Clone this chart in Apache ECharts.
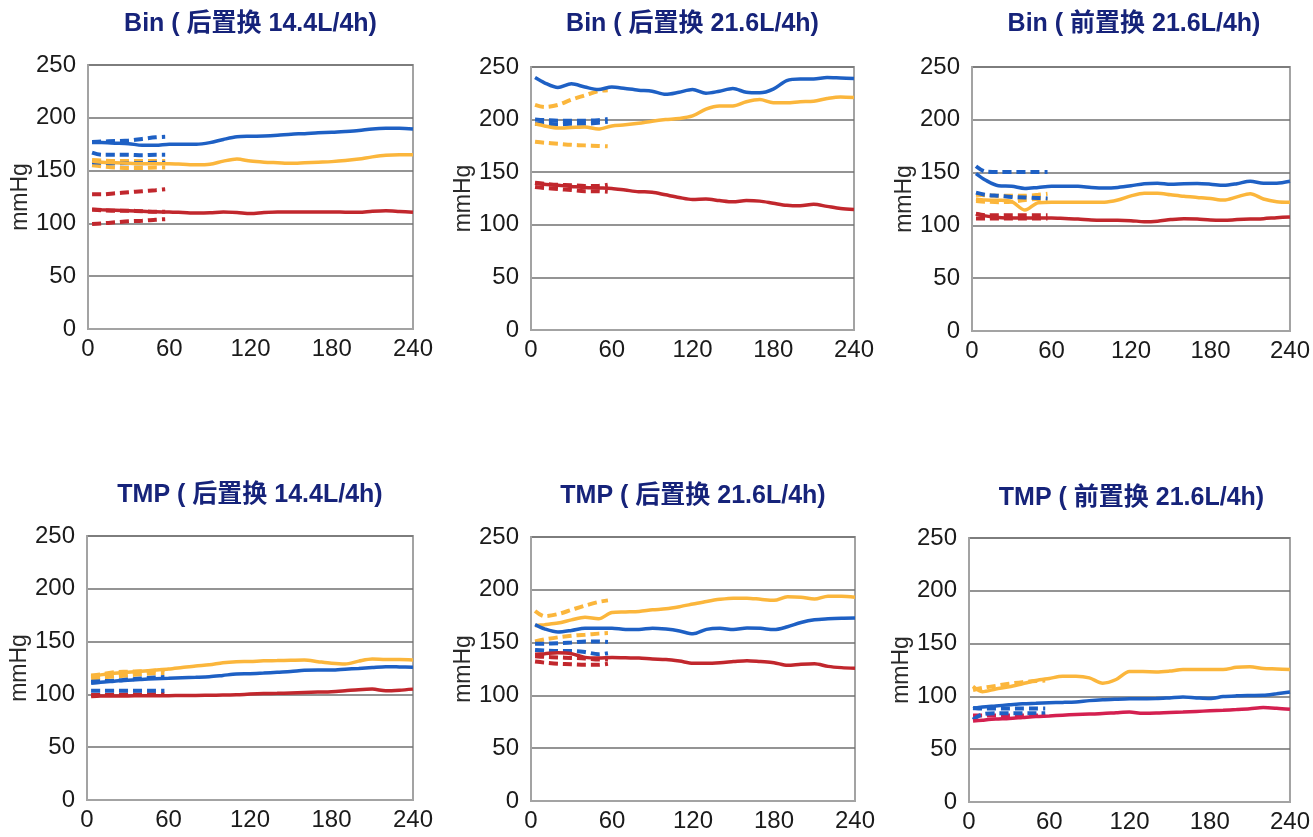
<!DOCTYPE html>
<html><head><meta charset="utf-8">
<script src="https://cdn.jsdelivr.net/npm/echarts@6/dist/echarts.min.js"></script>
<style>html,body{margin:0;padding:0;background:#fff}#c{width:1313px;height:837px}</style>
</head><body><div id="c"></div>
<script>
// ---- data ----
const titles = ['Bin ( 后置换 14.4L/4h)', 'Bin ( 后置换 21.6L/4h)', 'Bin ( 前置换 21.6L/4h)',
                'TMP ( 后置换 14.4L/4h)', 'TMP ( 后置换 21.6L/4h)', 'TMP ( 前置换 21.6L/4h)'];
const yTicks = [0, 50, 100, 150, 200, 250];
const xTicks = [0, 60, 120, 180, 240];
const tSolid = [3,10,20,30,40,50,60,70,80,90,100,110,120,130,140,150,160,170,180,190,200,210,220,230,240];
const tDash = [3,10,20,30,40,50,57];

// Panel 1
const p1Blue   = [176.5,176.5,176,175.5,174,174,175,175,175,176.5,179.5,182,182.5,182.8,183.5,184.5,185,185.8,186.2,187,188,189.5,190,190,189.5];
const p1Orange = [159,158,157.5,157,156.5,156.5,156.5,156,155.5,156,159,161,159,158,157.5,157,157.5,158,158.5,159.5,161,163,164.5,165,165];
const p1Red    = [113.5,113,112.5,112,111.5,111,110.8,110.3,109.8,110,110.8,110.3,109.4,110.3,110.8,110.8,110.8,110.8,110.8,110.6,110.5,111.5,112,111.3,110.5];
const p1BlueD  = [[177,177.5,178,178.5,180,181.5,182],[167,165,165,165,164.5,165,165],[158,157.5,157,157,157,157.5,157.5]];
const p1OrangeD= [[160,159.5,159,159,159,159,159],[155,154,153,152.5,152.5,153,153]];
const p1RedD   = [[127.5,127.5,128.5,129.5,130.5,131.5,132.3],[113,112.5,112,112,111.5,111,111],[99.5,100,101,102,102.5,103.5,104]];

// Panel 2
const p2Blue   = [240,235,230.5,234,231,228.5,231,229.5,228,227,224,226,228.5,225,227,229.5,226,225.5,229,237,238.5,238.5,240,239.5,239];
const p2Orange = [196,194,192,192.5,193,191,194,195,196.5,198.5,200,201,203.5,210,213,213,217,219,216,216,217,217.5,220,221.5,221];
const p2Red    = [139.5,138.5,137.5,136.5,135.5,135,134.5,133,131.5,131,128.5,126,124,124.5,123,121.8,123,122.5,120.5,118.5,118,119.5,117.5,115.5,114.6];
const p2BlueD  = [[200,199.5,199,199,199,199.5,200.5],[196,196,195.5,196,196,197,198]];
const p2OrangeD= [[214,212,214,219,223,227,228],[179,178,177,176,175.5,175,174.7]];
const p2RedD   = [[140,139,138,137.5,137,137,138],[136,135,134,133,132,132,131.5]];

// Panel 3
const p3Blue   = [149,143,137.5,137,135,136,137,137,137,136,135.5,136,137.5,139.5,140,139,139.5,139.6,139,138,139.5,141.8,140,140,141.8];
const p3Orange = [125,124,123.8,122.5,114.5,121.5,122,122,122,122,122,124,128,130.5,130.5,129,127.5,126.5,125.5,124,127,130,125,122.5,122];
const p3Red    = [111,109,107.5,107,107,107,107,106.5,106,105,104.8,104.8,104.5,103.5,104,105.5,106.4,106,105,104.8,105.5,106,106.4,107.3,108];
const p3BlueD  = [[156,151,150.5,150.5,150.5,150.5,150.5],[131,129,128,127,126.5,126,125.5]];
const p3OrangeD= [[129,128.5,128,128,128,129,130],[123,122.5,122,122.5,124,125,125]];
const p3RedD   = [[111,109.5,109.5,109.5,109.5,109.5,109.5],[106.5,106.5,106.5,106.5,106.5,106.5,106.5]];

// Panel 4
const p4Blue   = [110.5,111.5,112.5,113.5,114.2,114.8,115.2,115.7,116.2,116.8,118,119.3,119.6,120.2,121,121.7,122.8,123,123,123.8,124.6,125.5,126.3,126,125.6];
const p4Orange = [117,118.5,120,121,122,123,124,125.5,127,128,130,131,131.2,131.8,132,132.3,132.6,131,129.5,128.8,131.5,133.5,133,133,132.6];
const p4Red    = [98,98.5,98.5,98.6,98.7,98.8,98.8,99,99,99.2,99.4,99.6,100.3,100.8,101,101.4,101.8,102.2,102.6,103.5,104.5,105,103.5,104,105];
const p4BlueD  = [[112,112.5,113,114,115,116,116.5],[103.5,103.5,103.5,103.5,103.5,103.5,103.5]];
const p4OrangeD= [[118,119,121,121.5,122,122.5,123],[115,116,117,118,119,120,120]];
const p4RedD   = [[99.5,99.5,99.6,99.8,100,100.2,100.5]];

// Panel 5
const p5Blue   = [167,163,160,161.5,163.7,163.7,163.7,162.5,162.5,163.7,162.8,161,158.3,162.5,163.5,162.3,163.8,163.5,162.3,165,169,171.6,172.5,173,173.2];
const p5Orange = [166,167,168.5,171.5,174,172.5,178.5,179,179.5,181,182,184,186.5,189,191,192.1,192.1,191,190,193.5,193,191.2,194,194,193];
const p5Red    = [139,139.5,140.3,139.5,136,135.5,136,135.6,135.3,134.5,134,132.5,130.5,130.5,131,132,132.9,132,131,128.5,129.5,130,127.5,126.3,125.8];
const p5BlueD  = [[149,149,149.5,150,151,151,150.5],[143,142.5,142,142,141,139,140]];
const p5OrangeD= [[180,175,177,181,185,188.5,190],[151,153,155,156.5,157.5,158.5,159]];
const p5RedD   = [[137,136.5,136,135.5,135,134,134],[132,131,130,129.5,129,129,130]];

// Panel 6
const p6Blue   = [88.4,90,91,92,93,93.5,94,94.3,94.8,96,96.8,97.3,97.7,97.8,97.9,98.6,99.4,98.6,98,99.8,100.5,100.8,101,102.5,104.2];
const p6Orange = [109.5,104.5,107,109,112,115,117,119,119,117.5,112.5,116,123.5,123.5,123.2,124,125.4,125.4,125.4,125.4,127.5,128,126.5,126,125.4];
const p6Red    = [76.7,77.5,78.5,79,80,81,81.5,82.2,82.8,83.3,83.7,84.5,85.2,84,84.2,84.8,85.2,85.8,86.3,86.8,87.5,88.3,89.4,88.8,87.8];
const p6BlueD  = [[89,88.5,88.5,88.5,88.5,88.5,88.5],[78,83,84,84,84,84,84]];
const p6OrangeD= [[106,108,110,112,113.5,114.5,115]];
const p6RedD   = [[82,82,82,82,82,82,82]];

const panels = [
  {blue:p1Blue, orange:p1Orange, red:p1Red, blueD:p1BlueD, orangeD:p1OrangeD, redD:p1RedD},
  {blue:p2Blue, orange:p2Orange, red:p2Red, blueD:p2BlueD, orangeD:p2OrangeD, redD:p2RedD},
  {blue:p3Blue, orange:p3Orange, red:p3Red, blueD:p3BlueD, orangeD:p3OrangeD, redD:p3RedD},
  {blue:p4Blue, orange:p4Orange, red:p4Red, blueD:p4BlueD, orangeD:p4OrangeD, redD:p4RedD},
  {blue:p5Blue, orange:p5Orange, red:p5Red, blueD:p5BlueD, orangeD:p5OrangeD, redD:p5RedD},
  {blue:p6Blue, orange:p6Orange, red:p6Red, blueD:p6BlueD, orangeD:p6OrangeD, redD:p6RedD}
];

// ---- layout / style ----
const grids = [
  {left:88, top:65, width:325, height:264},
  {left:531, top:67, width:323, height:263},
  {left:972, top:67, width:324, height:264},
  {left:87, top:536, width:326, height:264},
  {left:531, top:537, width:324, height:264},
  {left:969, top:538, width:325, height:264}
];
const titleY = [24, 24, 24, 495, 496, 498];
const FONT = '"Liberation Sans", Arial, "Noto Sans CJK SC", sans-serif';
const BLUE = '#1e60c4', ORANGE = '#fbb63c';
const REDS = ['#c1272d','#c1272d','#c1272d','#c1272d','#c1272d','#d42050'];

const zip = (ts, vs) => ts.map((t, i) => [t, vs[i]]);

const option = {
  animation: false,
  backgroundColor: '#fff',
  title: [], grid: [], xAxis: [], yAxis: [], series: []
};

panels.forEach((p, i) => {
  const g = grids[i];
  option.grid.push({left:g.left, top:g.top, width:g.width, height:g.height, show:true,
    borderColor:'#a3a3a3', borderWidth:2, backgroundColor:'#fff'});
  option.title.push({text:titles[i], left:g.left + g.width/2, top:titleY[i], padding:0,
    textAlign:'center', textVerticalAlign:'middle',
    textStyle:{fontFamily:FONT, fontSize:25, fontWeight:'bold', color:'#16237a'}});
  option.xAxis.push({type:'value', gridIndex:i, min:xTicks[0], max:xTicks[xTicks.length-1], interval:60,
    axisLine:{show:true, lineStyle:{color:'#a3a3a3', width:2}}, axisTick:{show:false},
    splitLine:{show:false},
    axisLabel:{fontFamily:FONT, fontSize:24, color:'#1a1a1a', margin:8}});
  option.yAxis.push({type:'value', gridIndex:i, min:yTicks[0], max:yTicks[yTicks.length-1], interval:50,
    name:'mmHg', nameLocation:'middle', nameGap:52, nameRotate:90,
    nameTextStyle:{fontFamily:FONT, fontSize:23, color:'#2a2a2a'},
    axisLine:{show:true, lineStyle:{color:'#a3a3a3', width:2}}, axisTick:{show:false},
    splitLine:{show:true, lineStyle:{color:'#707070', width:1.5}},
    axisLabel:{fontFamily:FONT, fontSize:24, color:'#1a1a1a', margin:12}});
  const red = REDS[i];
  const addDash = (arr, color) => arr.forEach(v => option.series.push({
    type:'line', xAxisIndex:i, yAxisIndex:i, data:zip(tDash, v), showSymbol:false, symbol:'none',
    smooth:0.3, lineStyle:{color, width:4, type:[9,5]}, z:3}));
  addDash(p.redD, red);
  addDash(p.orangeD, ORANGE);
  addDash(p.blueD, BLUE);
  [[p.red, red], [p.orange, ORANGE], [p.blue, BLUE]].forEach(([v, color]) => option.series.push({
    type:'line', xAxisIndex:i, yAxisIndex:i, data:zip(tSolid, v), showSymbol:false, symbol:'none',
    smooth:0.3, lineStyle:{color, width:3.5}, z:4}));
});

const chart = echarts.init(document.getElementById('c'), null, {renderer:'canvas'});
chart.setOption(option);
</script>
</body></html>
